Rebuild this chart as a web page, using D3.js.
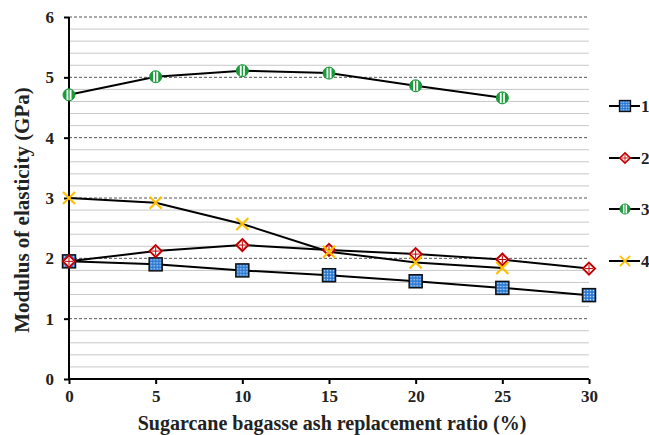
<!DOCTYPE html>
<html>
<head>
<meta charset="utf-8">
<script src="https://cdn.jsdelivr.net/npm/d3@7"></script>
<style>
  body { margin: 0; background: #fff; }
  text { font-family: "Liberation Serif", "Times New Roman", serif; font-weight: bold; fill: #222; }
</style>
</head>
<body>
<div id="chart"></div>
<script>
// données
const ratios = [0, 5, 10, 15, 20, 25, 30];
const series1 = [1.95, 1.90, 1.80, 1.72, 1.62, 1.51, 1.39];
const series2 = [1.95, 2.12, 2.22, 2.14, 2.07, 1.98, 1.83];
const series3 = [4.71, 5.01, 5.11, 5.07, 4.86, 4.66];
const series4 = [3.00, 2.92, 2.57, 2.11, 1.93, 1.84];
const seriesNames = ["1", "2", "3", "4"];
const yTicks = [0, 1, 2, 3, 4, 5, 6];

const width = 649, height = 435;
const margin = { left: 69, right: 60, top: 17, bottom: 56 };

const svg = d3.select("#chart").append("svg")
    .attr("width", width).attr("height", height);

const defs = svg.append("defs");
const pat = defs.append("pattern").attr("id", "hatch")
    .attr("width", 3).attr("height", 3).attr("patternUnits", "userSpaceOnUse");
pat.append("rect").attr("width", 3).attr("height", 3).attr("fill", "#2a78d0");
pat.append("circle").attr("cx", 1.5).attr("cy", 1.5).attr("r", 0.8).attr("fill", "#cfe3ff");

const x = d3.scaleLinear().domain([0, 30]).range([margin.left, width - margin.right]);
const y = d3.scaleLinear().domain([0, 6]).range([height - margin.bottom, margin.top]);

// grille mineure
const minor = d3.range(0.2, 6, 0.2).filter(v => Math.abs(v - Math.round(v)) > 0.01);
svg.append("g").selectAll("line").data(minor).enter().append("line")
    .attr("x1", x(0)).attr("x2", x(30))
    .attr("y1", d => y(d)).attr("y2", d => y(d))
    .attr("stroke", "#c8c8c8").attr("stroke-width", 1);

// grille majeure
svg.append("g").selectAll("line").data(yTicks.slice(1)).enter().append("line")
    .attr("x1", x(0)).attr("x2", x(30))
    .attr("y1", d => y(d)).attr("y2", d => y(d))
    .attr("stroke", "#555").attr("stroke-width", 1).attr("stroke-dasharray", "3,2");

// axes
const xAxis = svg.append("g").attr("transform", `translate(0,${y(0)})`)
    .call(d3.axisBottom(x).tickValues(ratios).tickFormat(d3.format("d")).tickSize(5).tickPadding(6));
const yAxis = svg.append("g").attr("transform", `translate(${x(0)},0)`)
    .call(d3.axisLeft(y).tickValues(yTicks).tickFormat(d3.format("d")).tickSize(5).tickPadding(10));
[xAxis, yAxis].forEach(a => {
    a.select(".domain").attr("stroke", "#000").attr("stroke-width", 2);
    a.selectAll(".tick line").attr("stroke", "#000").attr("stroke-width", 2);
    a.selectAll("text").attr("font-size", 17).attr("font-family", "Liberation Serif").attr("font-weight", "bold").attr("fill", "#222");
});
xAxis.select(".domain").attr("d", `M${x(0)},0H${x(30)}`);
yAxis.select(".domain").attr("d", `M0,${y(0)}V${y(6)}`);

// titres des axes
svg.append("text").attr("x", (x(0) + x(30)) / 2 + 3).attr("y", 430)
    .attr("text-anchor", "middle").attr("font-size", 20)
    .text("Sugarcane bagasse ash replacement ratio (%)");
svg.append("text").attr("transform", `translate(29,${y(3) + 12}) rotate(-90)`)
    .attr("text-anchor", "middle").attr("font-size", 21)
    .text("Modulus of elasticity (GPa)");

// marqueurs
function marker(g, k) {
    if (k === 0) {
        g.append("rect").attr("x", -6.5).attr("y", -6.5).attr("width", 13).attr("height", 13)
            .attr("fill", "url(#hatch)").attr("stroke", "#111").attr("stroke-width", 1.5);
    } else if (k === 1) {
        g.append("path").attr("d", "M0,-6L6,0L0,6L-6,0Z")
            .attr("fill", "#fff").attr("stroke", "#c00000").attr("stroke-width", 2);
        g.append("path").attr("d", "M0,-4V4M-4,0H4").attr("stroke", "#c00000").attr("stroke-width", 1);
    } else if (k === 2) {
        g.append("circle").attr("r", 6).attr("fill", "#1a9a3a").attr("stroke", "#1a9a3a").attr("stroke-width", 1);
        g.append("rect").attr("x", -2.5).attr("y", -5).attr("width", 5).attr("height", 10).attr("fill", "#fff");
        g.append("line").attr("x1", 0).attr("x2", 0).attr("y1", -5).attr("y2", 5)
            .attr("stroke", "#1a9a3a").attr("stroke-width", 1.3);
    } else {
        g.append("path").attr("d", "M-6,-6L6,6M-6,6L6,-6")
            .attr("stroke", "#ffc000").attr("stroke-width", 2.2);
    }
}

const allSeries = [series1, series2, series3, series4];
const line = d3.line().x((d, i) => x(ratios[i])).y(d => y(d));

allSeries.forEach((s, k) => {
    svg.append("path").datum(s).attr("d", line)
        .attr("fill", "none").attr("stroke", "#000").attr("stroke-width", 2);
});
allSeries.forEach((s, k) => {
    s.forEach((v, i) => {
        const g = svg.append("g").attr("transform", `translate(${x(ratios[i])},${y(v)})`);
        marker(g, k);
    });
});

// légende
const legendY = [106, 158, 209, 261];
seriesNames.forEach((n, k) => {
    const g = svg.append("g").attr("transform", `translate(609,${legendY[k]})`);
    g.append("line").attr("x1", 0).attr("x2", 31).attr("stroke", "#000").attr("stroke-width", 2);
    const m = g.append("g").attr("transform", "translate(16,0) scale(0.85)");
    marker(m, k);
    g.append("text").attr("x", 32).attr("y", 6).attr("font-size", 17).text(n);
});
</script>
</body>
</html>
